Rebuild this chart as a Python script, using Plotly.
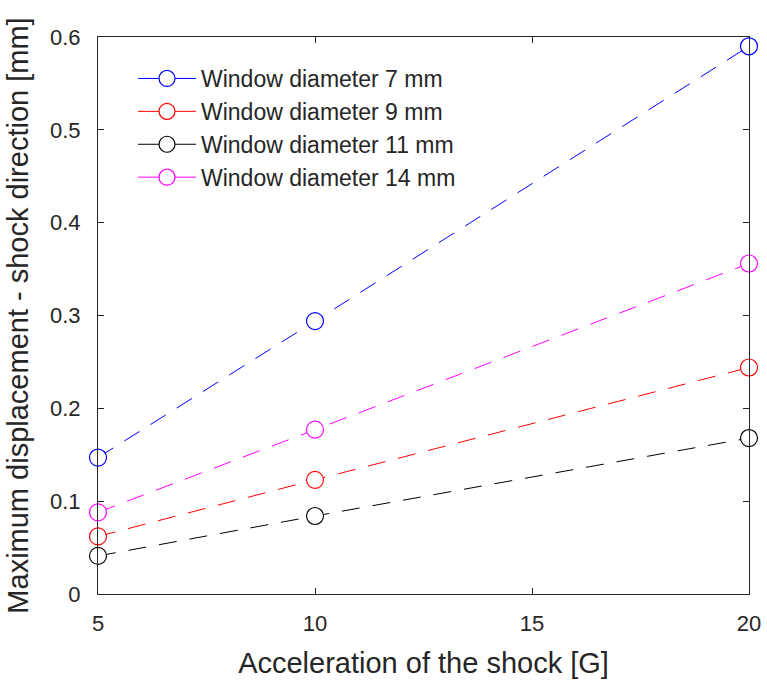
import plotly.graph_objects as go

accel = [5, 10, 20]
names = ["Window diameter 7 mm", "Window diameter 9 mm", "Window diameter 11 mm", "Window diameter 14 mm"]
disp_7 = [0.147, 0.294, 0.590]
disp_9 = [0.062, 0.123, 0.244]
disp_11 = [0.041, 0.084, 0.168]
disp_14 = [0.088, 0.177, 0.356]
colors = ["#0000FF", "#FF0000", "#000000", "#FF00FF"]
x_ticks = [5, 10, 15, 20]
y_ticks = [0, 0.1, 0.2, 0.3, 0.4, 0.5, 0.6]

fig = go.Figure()
for i, (name, ys, c) in enumerate(zip(names, [disp_7, disp_9, disp_11, disp_14], colors)):
    marker = dict(symbol="circle", size=17, color="white", line=dict(color=c, width=1.2))
    fig.add_trace(go.Scatter(
        x=accel, y=ys, name=name, mode="lines+markers",
        line=dict(color=c, width=1, dash="18px,13px"),
        marker=marker, cliponaxis=False,
        legendgroup=f"g{i}", showlegend=False,
    ))
    # legend entry (solid sample line like the original legend)
    fig.add_trace(go.Scatter(
        x=[None], y=[None], name=name, mode="lines+markers",
        line=dict(color=c, width=1), marker=marker,
        legendgroup=f"g{i}", showlegend=True,
    ))

W, H = 767, 681
ml, mr, mt, mb = 98, 18, 37, 87
axis_col = "#262626"
font_fam = "Liberation Sans, Arial, sans-serif"

fig.update_layout(
    width=W, height=H,
    margin=dict(l=ml, r=mr, t=mt, b=mb, autoexpand=False),
    paper_bgcolor="white", plot_bgcolor="white",
    font=dict(family=font_fam, color=axis_col, size=22),
    showlegend=True,
    legend=dict(
        x=(133 - ml) / (W - ml - mr), y=(H - mb - 57) / (H - mt - mb),
        xanchor="left", yanchor="top",
        bgcolor="rgba(255,255,255,0)", borderwidth=0,
        font=dict(size=23, color=axis_col, family=font_fam),
        tracegroupgap=0, itemwidth=58, groupclick="togglegroup",
    ),
)
fig.update_xaxes(
    range=[5, 20], tickvals=x_ticks, ticktext=[str(v) for v in x_ticks],
    showline=True, linecolor=axis_col, linewidth=1.2, mirror="allticks",
    ticks="inside", ticklen=6, tickcolor=axis_col, tickwidth=1,
    showgrid=False, zeroline=False, automargin=False,
    tickfont=dict(size=22), ticklabelstandoff=9,
    title=dict(text="Acceleration of the shock [G]", font=dict(size=29), standoff=18),
)
fig.update_yaxes(
    range=[0, 0.6], tickvals=y_ticks, ticktext=["0" if v == 0 else f"{v:.1f}" for v in y_ticks],
    showline=True, linecolor=axis_col, linewidth=1.2, mirror="allticks",
    ticks="inside", ticklen=6, tickcolor=axis_col, tickwidth=1,
    showgrid=False, zeroline=False, automargin=False,
    tickfont=dict(size=22), ticklabelstandoff=12,
    title=dict(text="Maximum displacement - shock direction [mm]", font=dict(size=29), standoff=12),
)

fig.write_html("out.html")
